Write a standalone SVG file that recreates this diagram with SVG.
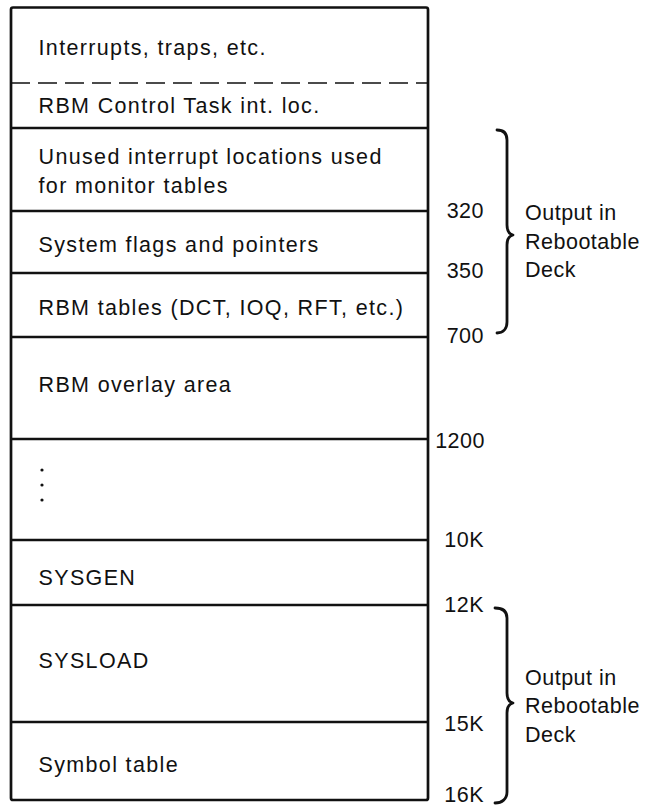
<svg xmlns="http://www.w3.org/2000/svg" width="645" height="806" viewBox="0 0 645 806">
<style>
text{font-family:"Liberation Sans",Arial,sans-serif;font-size:21.5px;fill:#111;letter-spacing:1.35px}
.num{text-anchor:end;letter-spacing:0.5px}
.side{letter-spacing:0.5px}
.sep{stroke:#111;stroke-width:2.3;fill:none}
.dash{stroke:#111;stroke-width:1.7;stroke-dasharray:19 8;fill:none}
.brace{stroke:#111;stroke-width:2.8;fill:none;stroke-linecap:round;stroke-linejoin:round}
</style>
<rect width="645" height="806" fill="#fff"/>
<g id="memory-map">
  <rect id="frame" x="11" y="7.5" width="417" height="792.5" rx="2" fill="none" stroke="#111" stroke-width="2.7"/>
  <g id="interrupts"><text x="38.5" y="55">Interrupts, traps, etc.</text><line class="dash" x1="11" y1="83" x2="428" y2="83"/></g>
  <g id="control-task"><text x="38.5" y="113">RBM Control Task int. loc.</text><line class="sep" x1="11" y1="128" x2="428" y2="128"/></g>
  <g id="unused-int"><text x="38.5" y="164">Unused interrupt locations used</text><text x="38.5" y="193">for monitor tables</text><line class="sep" x1="11" y1="211" x2="428" y2="211"/></g>
  <g id="system-flags"><text x="38.5" y="252">System flags and pointers</text><line class="sep" x1="11" y1="273" x2="428" y2="273"/></g>
  <g id="rbm-tables"><text x="38.5" y="315">RBM tables (DCT, IOQ, RFT, etc.)</text><line class="sep" x1="11" y1="337" x2="428" y2="337"/></g>
  <g id="overlay"><text x="38.5" y="392">RBM overlay area</text><line class="sep" x1="11" y1="439" x2="428" y2="439"/></g>
  <g id="gap"><circle cx="42" cy="470" r="1.6" fill="#111"/><circle cx="42" cy="485" r="1.6" fill="#111"/><circle cx="42" cy="500" r="1.6" fill="#111"/><line class="sep" x1="11" y1="540" x2="428" y2="540"/></g>
  <g id="sysgen"><text x="38.5" y="585">SYSGEN</text><line class="sep" x1="11" y1="605" x2="428" y2="605"/></g>
  <g id="sysload"><text x="38.5" y="668">SYSLOAD</text><line class="sep" x1="11" y1="722" x2="428" y2="722"/></g>
  <g id="symbol-table"><text x="38.5" y="772">Symbol table</text></g>
</g>
<g id="addresses">
  <text class="num" x="484" y="218">320</text>
  <text class="num" x="484" y="278">350</text>
  <text class="num" x="484" y="343">700</text>
  <text class="num" x="485" y="448">1200</text>
  <text class="num" x="484" y="547">10K</text>
  <text class="num" x="484" y="612">12K</text>
  <text class="num" x="484" y="731">15K</text>
  <text class="num" x="484" y="802">16K</text>
</g>
<g id="connectors">
  <path class="brace" d="M497,130 C503,130 507,133 507,140 L507,225 C507,231 509,234 513,235 C509,236 507,239 507,245 L507,322 C507,329 503,333 497,333"/>
  <path class="brace" d="M495,608 C502,608 507,611 507,618 L507,693 C507,699 509,702 513,703 C509,704 507,707 507,713 L507,792 C507,799 502,803 495,803"/>
</g>
<g id="output-upper">
  <text class="side" x="525" y="220">Output in</text>
  <text class="side" x="525" y="249">Rebootable</text>
  <text class="side" x="525" y="277">Deck</text>
</g>
<g id="output-lower">
  <text class="side" x="525" y="685">Output in</text>
  <text class="side" x="525" y="713">Rebootable</text>
  <text class="side" x="525" y="742">Deck</text>
</g>
</svg>
